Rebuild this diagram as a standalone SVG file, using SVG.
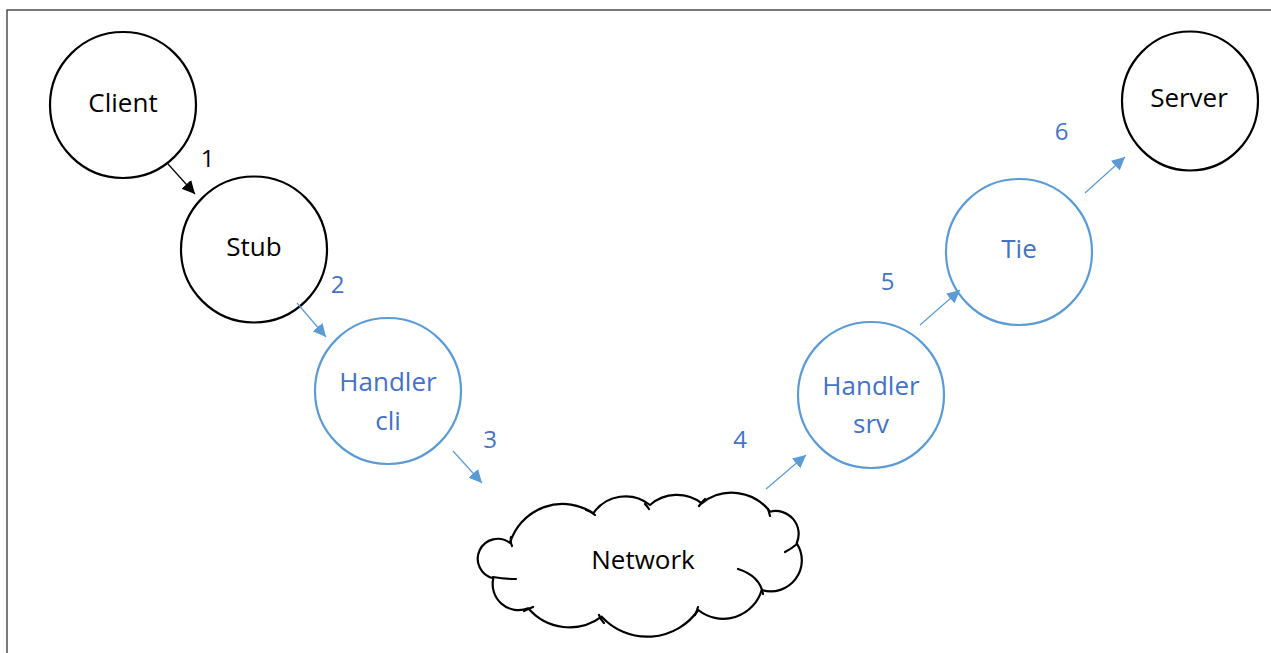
<svg xmlns="http://www.w3.org/2000/svg" width="1271" height="653" viewBox="0 0 1271 653">
<style>
.bk{fill:#fff;stroke:#000;stroke-width:2.2}
.bl{fill:#fff;stroke:#5B9BD5;stroke-width:2.2}
text{font-family:"Open Sans","Liberation Sans",sans-serif;font-size:26px;text-anchor:middle}
.num{font-size:24px}
.tb{fill:#000}
.tl{fill:#4472C4}
.cb{stroke:#000;stroke-width:1.2;fill:none}
.cl{stroke:#5B9BD5;stroke-width:1.2;fill:none}
.cloud{fill:#fff;stroke:#000;stroke-width:2.2;stroke-linejoin:round}
.hint{fill:none;stroke:#000;stroke-width:2.2;stroke-linecap:round}
</style>
<defs>
<marker id="ab" markerUnits="userSpaceOnUse" markerWidth="14" markerHeight="14" refX="13" refY="6.5" orient="auto"><path d="M0,0 L13,6.5 L0,13 z" fill="#000"/></marker>
<marker id="al" markerUnits="userSpaceOnUse" markerWidth="14" markerHeight="14" refX="13" refY="6.5" orient="auto"><path d="M0,0 L13,6.5 L0,13 z" fill="#5B9BD5"/></marker>
</defs>
<rect width="1271" height="653" fill="#fff"/>
<rect x="7" y="10" width="1300" height="700" fill="none" stroke="#333" stroke-width="1.3"/>
<g id="client"><circle class="bk" cx="123" cy="105" r="73"/><text class="tb" x="123" y="112">Client</text></g>
<g id="stub"><circle class="bk" cx="254" cy="249.5" r="73"/><text class="tb" x="254" y="256">Stub</text></g>
<g id="handler-cli"><circle class="bl" cx="388" cy="391" r="73"/><text class="tl" x="388" y="391">Handler</text><text class="tl" x="388" y="430">cli</text></g>
<g id="network">
<path class="cloud" d="M510,543 A55,55 0 0 1 593.3,513.3 A39,39 0 0 1 650,505 A41,41 0 0 1 701.7,503.3 A48,48 0 0 1 770,511.7 A23,23 0 0 1 796.7,543.3 A31,31 0 0 1 761.7,590 A40,40 0 0 1 698.3,610 A62,62 0 0 1 601.7,616.7 A54,54 0 0 1 528.3,608.3 A26,26 0 0 1 493.3,578.3 A20,20 0 1 1 510,543 Z"/>
<path class="hint" d="M511,537 Q510,542 512,546 M493,577 Q505,579 516,579 M524,611 Q528,609 533,607 M599,615 Q601,620 604,623 M586,510 Q591,511 595,515 M645,504 Q647,506 649,509 M699,506 Q702,502 705,499 M768,509 Q769,512 770,516 M785,552 Q791,549 797,544 M738,569 Q760,576 763,594 M698,607 Q697,611 695,615"/>
<text class="tb" x="643" y="569">Network</text>
</g>
<g id="handler-srv"><circle class="bl" cx="871" cy="395" r="73"/><text class="tl" x="871" y="395">Handler</text><text class="tl" x="871" y="433">srv</text></g>
<g id="tie"><circle class="bl" cx="1019" cy="252" r="73"/><text class="tl" x="1019" y="258">Tie</text></g>
<g id="server"><ellipse class="bk" cx="1190" cy="101" rx="68" ry="69.5"/><text class="tb" x="1189" y="107">Server</text></g>
<g id="connectors">
<line class="cb" x1="168" y1="164" x2="195" y2="194" marker-end="url(#ab)"/>
<line class="cl" x1="297" y1="303" x2="326" y2="337" marker-end="url(#al)"/>
<line class="cl" x1="453" y1="451" x2="482" y2="483" marker-end="url(#al)"/>
<line class="cl" x1="766" y1="489" x2="806" y2="455" marker-end="url(#al)"/>
<line class="cl" x1="920" y1="325" x2="960" y2="290" marker-end="url(#al)"/>
<line class="cl" x1="1085" y1="193" x2="1125" y2="157" marker-end="url(#al)"/>
<text class="tb num" x="207.5" y="167">1</text>
<text class="tl num" x="337.5" y="293">2</text>
<text class="tl num" x="490" y="448">3</text>
<text class="tl num" x="740" y="448">4</text>
<text class="tl num" x="887.5" y="290">5</text>
<text class="tl num" x="1061.5" y="140">6</text>
</g>
</svg>
